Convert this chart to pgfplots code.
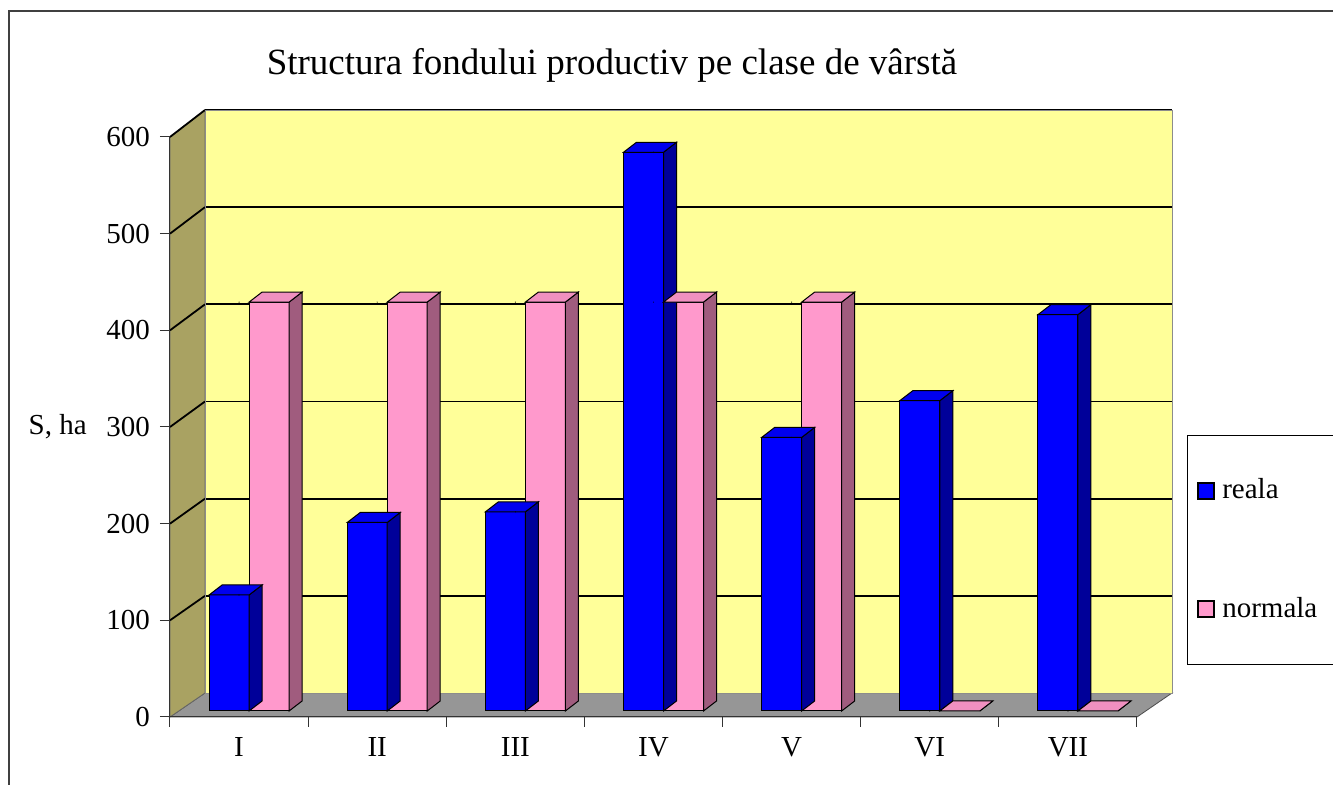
\documentclass[border=0pt]{standalone}
\usepackage{fontspec}
\setmainfont{Liberation Serif}
\usepackage{pgfplots}
\pgfplotsset{compat=1.18}
\usepackage{pgfplotstable}
\definecolor{wallY}{HTML}{FFFF99}
\definecolor{sideW}{HTML}{A9A262}
\definecolor{floorG}{HTML}{969696}
\definecolor{blueF}{HTML}{0000FF}
\definecolor{blueS}{HTML}{000099}
\definecolor{blueT}{HTML}{0000EE}
\definecolor{pinkF}{HTML}{FF99CC}
\definecolor{pinkS}{HTML}{A05C7E}
\definecolor{pinkT}{HTML}{F090C0}

\pgfplotstableread{
x reala normala
0 120 423
1 195 423
2 206 423
3 578 423
4 283 423
5 321 0
6 410 0
}\datatable

\pgfplotsset{
  prism/.style n args={3}{
    forget plot, scatter, only marks, mark=*, mark size=0.01pt,
    mark options={draw=none,fill=none},
    visualization depends on={rawy \as \ry},
    scatter/@pre marker code/.code={%
      \pgfmathsetmacro\hh{\ry*0.4833333}%
      \filldraw[fill=#2,draw=black,line width=0.5pt] (#1+10pt,0pt) -- (#1+16.5pt,5pt) -- (#1+16.5pt,5pt-\hh pt) -- (#1+10pt,-\hh pt) -- cycle;
      \filldraw[fill=#3,draw=black,line width=0.5pt] (#1-10pt,0pt) -- (#1-3.5pt,5pt) -- (#1+16.5pt,5pt) -- (#1+10pt,0pt) -- cycle;
    },
    scatter/@post marker code/.code={},
  }
}

\begin{document}
\fontsize{14.5}{17}\selectfont
\begin{tikzpicture}[font=\fontsize{14.5}{17}\selectfont]
\useasboundingbox (0,0) rectangle (666.5pt,392.5pt);
% chart frame
\draw[black!75, line width=0.6pt] (4.5pt,-2pt) -- (4.5pt,387pt) -- (670pt,387pt);
% title
\node[font=\fontsize{18.5}{22}\selectfont] at (306pt,360pt) {Structura fondului productiv pe clase de vârstă};
% floor
\filldraw[fill=floorG, draw=black!70, line width=0.4pt] (85pt,34pt) -- (568.5pt,34pt) -- (586pt,46pt) -- (102.5pt,46pt) -- cycle;
% side wall
\filldraw[fill=sideW, draw=black!60, line width=0.4pt] (85pt,34pt) -- (85pt,324pt) -- (102.5pt,337.5pt) -- (102.5pt,46pt) -- cycle;
\foreach \k in {1,...,6} \draw[black, line width=0.9pt] (85pt,34pt+\k*48.3333pt) -- (102.5pt,46pt+\k*48.5833pt);

% back wall
\begin{axis}[at={(102.5pt,46pt)}, anchor=south west, scale only axis,
  width=483.5pt, height=291.5pt, xmin=0, xmax=1, ymin=0, ymax=600,
  ytick={100,200,...,600}, xtick=\empty, yticklabels={}, major tick length=0pt,
  ymajorgrids, grid style={black, line width=0.9pt},
  axis background/.style={fill=wallY},
  axis line style={draw=black!45, line width=0.4pt}]
\end{axis}

% front axis with ticks
\begin{axis}[at={(85pt,34pt)}, anchor=south west, scale only axis,
  width=483.5pt, height=290pt, xmin=-0.5, xmax=6.5, ymin=0, ymax=600,
  axis lines*=left, axis line style={black!80, line width=0.5pt},
  /pgf/number format/assume math mode=true,
  ytick={0,100,...,600},
  xtick={-0.5,0.5,...,6.5}, x tick label as interval,
  xticklabels={I,II,III,IV,V,VI,VII},
  tick align=outside, major tick length=5pt,
  tick style={black!80, line width=0.5pt},
  ylabel={S, ha},
  every axis y label/.style={at={(ticklabel cs:0.5)}, anchor=east},
  ]
\end{axis}

% bars
\begin{axis}[at={(85pt,37pt)}, anchor=south west, scale only axis,
  width=483.5pt, height=290pt, xmin=-0.5, xmax=6.5, ymin=0, ymax=600,
  hide axis, clip=false,
  legend style={at={(1.0517,0.4759)}, anchor=north west, draw=black,
    line width=0.5pt, inner xsep=5pt, inner ysep=19.5pt, row sep=43pt,
    font=\fontsize{14.5}{17}\selectfont},
  legend cell align=left,
  ]
\addplot[ybar, bar width=20pt, bar shift=-5pt, fill=blueF, draw=black, line width=0.5pt,
  legend image code/.code={\filldraw[fill=blueF,draw=black,line width=0.9pt] (0pt,-4pt) rectangle (8pt,4pt);}]
  table[x=x,y=reala]{\datatable};
\addlegendentry{\hspace*{1.5pt}reala}
\addplot[prism={-5pt}{blueS}{blueT}] table[x=x,y=reala]{\datatable};
\addplot[ybar, bar width=20pt, bar shift=15pt, fill=pinkF, draw=black, line width=0.5pt,
  legend image code/.code={\filldraw[fill=pinkF,draw=black,line width=0.9pt] (0pt,-4pt) rectangle (8pt,4pt);}]
  table[x=x,y=normala]{\datatable};
\addlegendentry{\hspace*{1.5pt}normala\hspace*{14pt}}
\addplot[prism={15pt}{pinkS}{pinkT}] table[x=x,y=normala]{\datatable};
\end{axis}
\end{tikzpicture}
\end{document}
